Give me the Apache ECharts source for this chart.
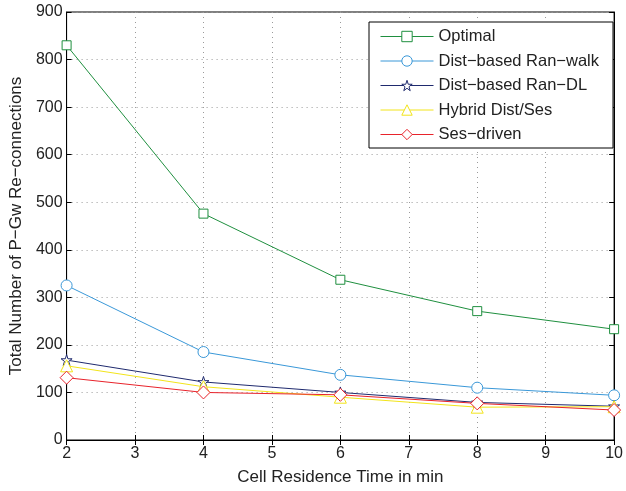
<!DOCTYPE html>
<html>
<head>
<meta charset="utf-8">
<script src="https://cdn.jsdelivr.net/npm/echarts@6/dist/echarts.min.js"></script>
<style>html,body{margin:0;padding:0;background:#fff}#c{width:626px;height:491px}</style>
</head>
<body>
<div id="c"></div>
<script>
const xValues = [2, 4, 6, 8, 10];
const optimal = [830, 476, 337, 271, 233];
const ranWalk = [325, 185, 137, 110, 94];
const ranDL = [168, 122, 100, 79, 71];
const hybrid = [156, 112, 90, 69, 70];
const sesDriven = [131, 100, 95, 77, 63];
const seriesNames = ['Optimal', 'Dist\u2212based Ran\u2212walk', 'Dist\u2212based Ran\u2212DL', 'Hybrid Dist/Ses', 'Ses\u2212driven'];
const xTitle = 'Cell Residence Time in min';
const yTitle = 'Total Number of P\u2212Gw Re\u2212connections';

const starPath = 'path://M50,0 L61.8,36.2 L100,36.2 L69.1,58.6 L80.9,95.1 L50,72.7 L19.1,95.1 L30.9,58.6 L0,36.2 L38.2,36.2 Z';
const FONT = 'Liberation Sans, Arial, Helvetica, sans-serif';

function pts(arr) { return xValues.map((x, i) => [x, arr[i]]); }

const defs = [
  { data: optimal, color: '#1f8f3f', symbol: 'rect', size: 9 },
  { data: ranWalk, color: '#3a98d8', symbol: 'circle', size: 11 },
  { data: ranDL, color: '#1f2a6e', symbol: starPath, size: 11 },
  { data: hybrid, color: '#f2e41a', symbol: 'triangle', size: 12 },
  { data: sesDriven, color: '#e8232b', symbol: 'diamond', size: 13 }
];

const gridLine = { show: true, lineStyle: { color: '#9a9a9a', type: [1, 4], width: 1 } };

const chart = echarts.init(document.getElementById('c'), null, { renderer: 'canvas' });
chart.setOption({
  animation: false,
  backgroundColor: '#fff',
  textStyle: { fontFamily: FONT },
  grid: { left: 65, right: 9, top: 12, bottom: 47, show: true, borderColor: '#000', borderWidth: 1, backgroundColor: 'transparent' },
  legend: {
    orient: 'vertical',
    left: 369, top: 22,
    data: seriesNames,
    itemWidth: 53, itemHeight: 13, itemGap: 7.5,
    padding: [6, 14, 5, 11],
    borderColor: '#000', borderWidth: 1, backgroundColor: '#fff',
    itemStyle: { borderWidth: 1 },
    lineStyle: { width: 1 },
    textStyle: { fontSize: 16.5, color: '#222', fontFamily: FONT }
  },
  xAxis: [{
    type: 'value', min: 2, max: 10, interval: 1,
    name: xTitle, nameLocation: 'middle', nameGap: 29,
    nameTextStyle: { fontSize: 17, color: '#222', fontFamily: FONT },
    axisLine: { show: true, lineStyle: { color: '#000', width: 1 } },
    axisTick: { show: true, inside: true, length: 5, lineStyle: { color: '#000' } },
    axisLabel: { fontSize: 16, color: '#222', margin: 6, fontFamily: FONT },
    splitLine: gridLine
  }, {
    type: 'value', min: 2, max: 10, interval: 1, position: 'top',
    axisLine: { show: true, lineStyle: { color: '#000' } },
    axisTick: { show: true, inside: true, length: 5, lineStyle: { color: '#000' } },
    axisLabel: { show: false }, splitLine: { show: false }
  }],
  yAxis: [{
    type: 'value', min: 0, max: 900, interval: 100,
    name: yTitle, nameLocation: 'middle', nameGap: 39,
    nameTextStyle: { fontSize: 17, color: '#222', fontFamily: FONT },
    axisLine: { show: true, lineStyle: { color: '#000', width: 1 } },
    axisTick: { show: true, inside: true, length: 5, lineStyle: { color: '#000' } },
    axisLabel: { fontSize: 16, color: '#222', margin: 4, fontFamily: FONT },
    splitLine: gridLine
  }, {
    type: 'value', min: 0, max: 900, interval: 100, position: 'right',
    axisLine: { show: true, lineStyle: { color: '#000' } },
    axisTick: { show: true, inside: true, length: 5, lineStyle: { color: '#000' } },
    axisLabel: { show: false }, splitLine: { show: false }
  }],
  series: defs.map((d, i) => ({
    name: seriesNames[i],
    type: 'line',
    xAxisIndex: 0, yAxisIndex: 0,
    data: pts(d.data),
    symbol: d.symbol,
    symbolSize: d.size,
    showAllSymbol: true,
    lineStyle: { color: d.color, width: 1 },
    itemStyle: { color: '#fff', borderColor: d.color, borderWidth: 1 },
    emphasis: { disabled: true },
    z: 2 + i
  }))
});
</script>
</body>
</html>
